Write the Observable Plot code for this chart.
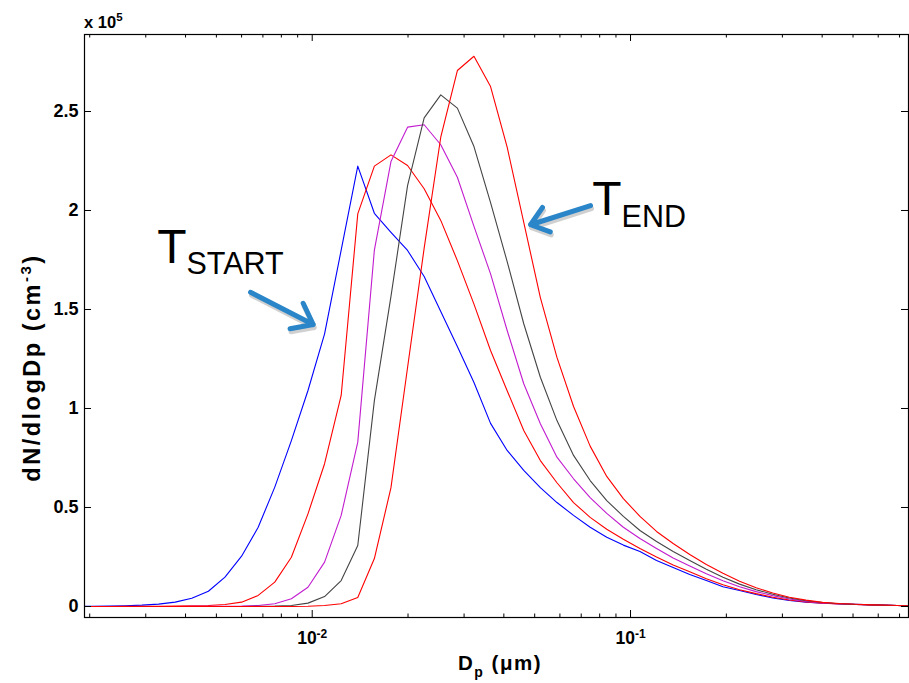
<!DOCTYPE html>
<html><head><meta charset="utf-8">
<script src="https://cdn.jsdelivr.net/npm/d3@7"></script>
<script src="https://cdn.jsdelivr.net/npm/@observablehq/plot@0.6"></script>
<style>html,body{margin:0;padding:0;background:#fff}svg{display:block}</style>
</head><body><div id="chart"></div>
<script>
// particle diameter bins (µm)
const dp = [0.0018059,0.0020363,0.0022961,0.0025890,0.0029193,0.0032917,0.0037116,0.0041851,0.0047190,0.0053210,
0.0059998,0.0067652,0.0076282,0.0086013,0.0096985,0.010936,0.012331,0.013904,0.015678,0.017678,
0.019933,0.022476,0.025343,0.028577,0.032222,0.036333,0.040968,0.046195,0.052088,0.058733,
0.066226,0.074675,0.084201,0.094943,0.10706,0.12071,0.13611,0.15348,0.17306,0.19514,
0.22003,0.24810,0.27975,0.31544,0.35568,0.40106,0.45222,0.50991,0.57496,0.64831,0.73102,0.82428];

// dN/dlogDp in units of 10^5 cm^-3
const sBlue = [0,0.001,0.002,0.004,0.007,0.012,0.022,0.042,0.077,0.148,
0.254,0.400,0.603,0.838,1.091,1.377,1.800,2.224,1.986,1.890,
1.798,1.667,1.490,1.313,1.131,0.925,0.788,0.687,0.600,0.525,
0.460,0.400,0.350,0.310,0.278,0.232,0.197,0.162,0.131,0.100,
0.081,0.061,0.043,0.030,0.022,0.017,0.014,0.011,0.008,0.006,0.004,0.003];
const sRed1 = [0,0,0,0.001,0.001,0.001,0.002,0.003,0.005,0.010,
0.022,0.056,0.123,0.249,0.468,0.721,1.066,1.983,2.224,2.281,
2.227,2.110,1.950,1.747,1.527,1.293,1.090,0.889,0.737,0.625,
0.525,0.450,0.390,0.340,0.293,0.250,0.210,0.175,0.140,0.110,
0.085,0.065,0.047,0.033,0.023,0.017,0.013,0.010,0.008,0.006,0.004,0.003];
const sMagenta = [0,0,0,0,0,0,0,0.001,0.001,0.001,
0.002,0.005,0.014,0.039,0.097,0.224,0.460,0.830,1.800,2.247,
2.421,2.433,2.332,2.168,1.920,1.680,1.394,1.125,0.923,0.754,
0.645,0.550,0.470,0.400,0.343,0.293,0.245,0.205,0.165,0.130,
0.100,0.075,0.055,0.038,0.026,0.018,0.013,0.010,0.008,0.006,0.004,0.003];
const sBlack = [0,0,0,0,0,0,0,0,0,0,
0,0.001,0.002,0.005,0.017,0.050,0.131,0.308,1.040,1.566,
2.126,2.468,2.584,2.517,2.323,2.040,1.742,1.428,1.158,0.939,
0.763,0.636,0.535,0.455,0.384,0.328,0.278,0.232,0.188,0.148,
0.113,0.085,0.062,0.043,0.029,0.020,0.014,0.010,0.008,0.006,0.004,0.003];
const sRed2 = [0,0,0,0,0,0,0,0,0,0,
0,0,0,0,0.001,0.005,0.014,0.045,0.242,0.600,
1.207,1.810,2.370,2.707,2.779,2.626,2.320,1.940,1.560,1.258,
1.010,0.810,0.657,0.545,0.455,0.379,0.318,0.263,0.212,0.168,
0.128,0.095,0.068,0.047,0.032,0.021,0.015,0.011,0.008,0.006,0.004,0.003];

const seriesList = [sBlue, sRed1, sMagenta, sBlack, sRed2];
const seriesColors = ["#0000ff", "#ff0000", "#c21ccf", "#444444", "#ff0000"];

const yTicks = [0, 0.5, 1, 1.5, 2, 2.5];
const yTickLabels = ["0", "0.5", "1", "1.5", "2", "2.5"];
const xMajorTicks = [0.01, 0.1];
const xMajorExp = ["-2", "-1"];
const xMinorTicks = [0.002,0.003,0.004,0.005,0.006,0.007,0.008,0.009,
0.02,0.03,0.04,0.05,0.06,0.07,0.08,0.09,0.2,0.3,0.4,0.5,0.6,0.7];

const annoText = [{main: "T", sub: "START", x: 0.003258, y: 1.734}, {main: "T", sub: "END", x: 0.07581, y: 1.975}];
const annoArrows = [{x1: 0.0064, y1: 1.587, x2: 0.010073, y2: 1.424}, {x1: 0.07488, y1: 2.025, x2: 0.04851, y2: 1.928}];

const W = 909, H = 683, mL = 84, mR = 1, mT = 34, mB = 66;
const pw = W - mL - mR, ph = H - mT - mB;
const FONT = "'Liberation Sans', Arial, Helvetica, sans-serif";

const lineMarks = seriesList.map((s, j) =>
  Plot.line(dp.map((d, i) => ({dp: d, v: s[i]})), {x: "dp", y: "v", stroke: seriesColors[j], strokeWidth: 1.1, clip: true}));

const plot = Plot.plot({
  width: W, height: H, marginLeft: mL, marginRight: mR, marginTop: mT, marginBottom: mB,
  style: {fontFamily: FONT, background: "white", color: "black"},
  x: {type: "log", domain: [0.001926, 0.7469], axis: null},
  y: {domain: [-0.0556, 2.8889], axis: null},
  marks: [
    ...lineMarks,
    Plot.arrow(annoArrows, {x1: "x1", y1: "y1", x2: "x2", y2: "y2", stroke: "#777", strokeOpacity: 0.35, strokeWidth: 5, headLength: 11, headAngle: 75, dx: 1, dy: 3, strokeLinejoin: "miter"}),
    Plot.arrow(annoArrows, {x1: "x1", y1: "y1", x2: "x2", y2: "y2", stroke: "#2a86c8", strokeWidth: 5, headLength: 11, headAngle: 75, strokeLinejoin: "miter"}),
    Plot.text(annoText, {x: "x", y: "y", text: "main", textAnchor: "start", lineAnchor: "bottom", fontSize: 48, fill: "black", ariaDescription: "anno"}),
    Plot.tickX(xMinorTicks, {x: d => d, insetTop: ph - 3.5, stroke: "black"}),
    Plot.tickX(xMinorTicks, {x: d => d, insetBottom: ph - 3.5, stroke: "black"}),
    Plot.tickX(xMajorTicks, {x: d => d, insetTop: ph - 7, stroke: "black"}),
    Plot.tickX(xMajorTicks, {x: d => d, insetBottom: ph - 7, stroke: "black"}),
    Plot.tickY(yTicks, {y: d => d, insetRight: pw - 7, stroke: "black"}),
    Plot.tickY(yTicks, {y: d => d, insetLeft: pw - 7, stroke: "black"}),
    Plot.frame({stroke: "black", strokeWidth: 1.2}),
    Plot.text(yTicks, {y: d => d, frameAnchor: "left", text: (d, i) => yTickLabels[i], textAnchor: "end", dx: -6, fontSize: 18, fontWeight: "bold", fill: "black"}),
    Plot.text(xMajorTicks, {x: d => d, frameAnchor: "bottom", text: () => "10", lineAnchor: "bottom", dy: 26.5, fontSize: 17.5, fontWeight: "bold", fill: "black", ariaDescription: "xlabels"})
  ]
});
document.getElementById("chart").appendChild(plot);
const svg = d3.select(plot);

// superscripts on x tick labels
svg.selectAll('g[aria-description="xlabels"] text').each(function(d, i) {
  d3.select(this).append("tspan").attr("dy", "-0.5em").attr("font-size", 12).text(xMajorExp[i]);
});
// subscripts on annotations
svg.selectAll('g[aria-description="anno"] text').each(function(d, i) {
  d3.select(this).append("tspan").attr("dy", 11.3).attr("font-size", 30.5).text(annoText[i].sub);
});

// exponent label
const ex = svg.append("text").attr("x", mL).attr("y", mT - 5.7).attr("text-anchor", "start")
  .attr("font-family", FONT).attr("font-weight", "bold").attr("font-size", 16.5).text("x 10");
ex.append("tspan").attr("dy", -7.5).attr("font-size", 11.5).text("5");

// y label
const yl = svg.append("text").attr("transform", `translate(40,${mT + ph / 2 + 42}) rotate(-90)`)
  .attr("text-anchor", "middle").attr("font-family", FONT).attr("font-weight", "bold").attr("font-size", 23.5)
  .attr("letter-spacing", 2.5)
  .text("dN/dlogDp (cm");
yl.append("tspan").attr("dy", -9.5).attr("font-size", 15).text("-3");
yl.append("tspan").attr("dy", 9.5).text(")");

// x label
const xl = svg.append("text").attr("x", mL + pw / 2 + 4).attr("y", 670)
  .attr("text-anchor", "middle").attr("font-family", FONT).attr("font-weight", "bold").attr("font-size", 20.5)
  .attr("letter-spacing", 1.5)
  .text("D");
xl.append("tspan").attr("dy", 6.5).attr("font-size", 14).text("p");
xl.append("tspan").attr("dy", -6.5).text(" (μm)");
</script></body></html>
